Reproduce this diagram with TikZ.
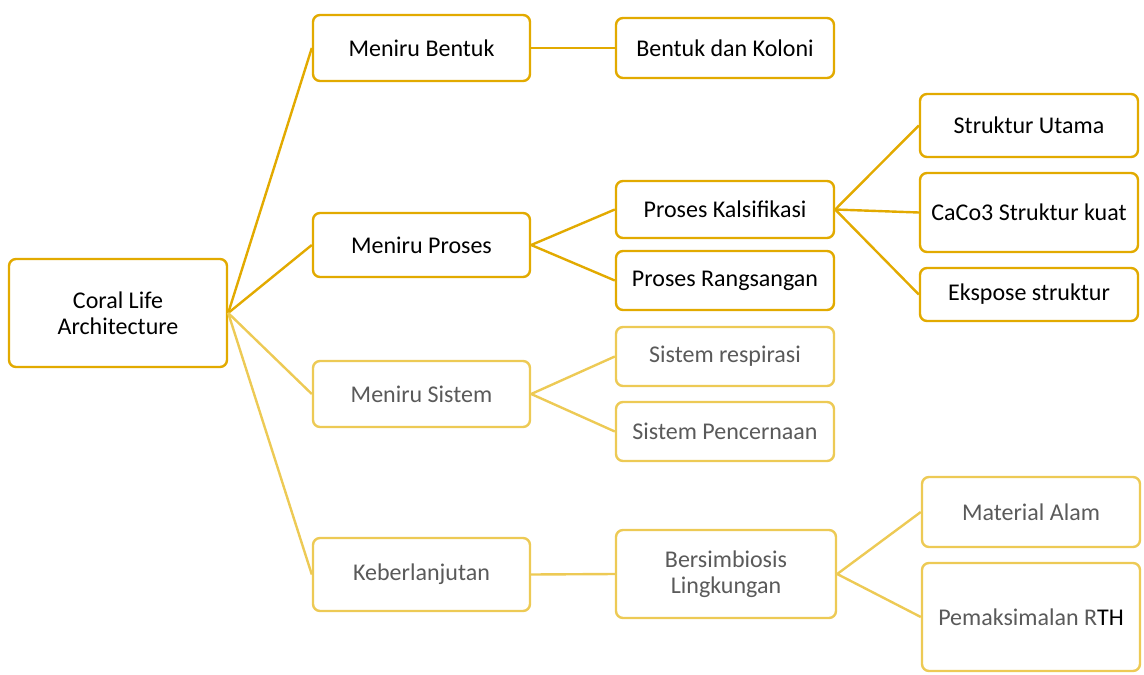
\documentclass[tikz,border=0pt]{standalone}
\usepackage{fontspec}
\setmainfont{Carlito}
\definecolor{gd}{HTML}{E2AA00}
\definecolor{gl}{HTML}{EDCA55}
\definecolor{txg}{HTML}{5A5A5A}
\begin{document}
\begin{tikzpicture}[x=1pt,y=-1pt,
  box/.style={draw=gd,line width=2.4pt,rounded corners=7pt,fill=white,align=center,font=\fontsize{24}{26}\selectfont,text=black,inner sep=0pt},
  lbox/.style={box,draw=gl,text=txg},
  ln/.style={draw=gd,line width=2.4pt},
  lln/.style={draw=gl,line width=2.4pt}]
\useasboundingbox (0,0) rectangle (1144,675);
\newcommand{\bx}[7]{\node[#1,minimum width=#4-#3,minimum height=#6-#5] (#2) at ({(#3+#4)/2},{(#5+#6)/2}) {#7};}
\bx{box}{root}{9}{227}{259}{367}{Coral Life\\Architecture}
\bx{box}{mb}{313}{530}{15}{81}{Meniru Bentuk}
\bx{box}{bk}{616}{834}{18}{78}{Bentuk dan Koloni}
\bx{box}{mp}{313}{530}{213}{277}{Meniru Proses}
\bx{box}{pk}{616}{834}{181}{238}{Proses Kalsifikasi}
\bx{box}{pr}{616}{834}{251}{310}{Proses Rangsangan}
\bx{box}{su}{920}{1138}{94}{157}{Struktur Utama}
\bx{box}{cc}{920}{1138}{173}{252}{CaCo3 Struktur kuat}
\bx{box}{es}{920}{1138}{268}{321}{Ekspose struktur}
\bx{lbox}{ms}{313}{530}{361}{427}{Meniru Sistem}
\bx{lbox}{sr}{616}{834}{327}{386}{Sistem respirasi}
\bx{lbox}{sp}{616}{834}{402}{461}{Sistem Pencernaan}
\bx{lbox}{kb}{313}{530}{538}{611}{Keberlanjutan}
\bx{lbox}{bl}{616}{836}{530}{618}{Bersimbiosis\\Lingkungan}
\bx{lbox}{ma}{922}{1140}{477}{547}{Material Alam}
\bx{lbox}{pm}{922}{1140}{563}{671}{Pemaksimalan R\textcolor{black}{TH}}
\draw[ln] (root.east) -- (mb.west);
\draw[ln] (root.east) -- (mp.west);
\draw[lln] (root.east) -- (ms.west);
\draw[lln] (root.east) -- (kb.west);
\draw[ln] (mb.east) -- (bk.west);
\draw[ln] (mp.east) -- (pk.west);
\draw[ln] (mp.east) -- (pr.west);
\draw[ln] (pk.east) -- (su.west);
\draw[ln] (pk.east) -- (cc.west);
\draw[ln] (pk.east) -- (es.west);
\draw[lln] (ms.east) -- (sr.west);
\draw[lln] (ms.east) -- (sp.west);
\draw[lln] (kb.east) -- (bl.west);
\draw[lln] (bl.east) -- (ma.west);
\draw[lln] (bl.east) -- (pm.west);
\end{tikzpicture}
\end{document}
